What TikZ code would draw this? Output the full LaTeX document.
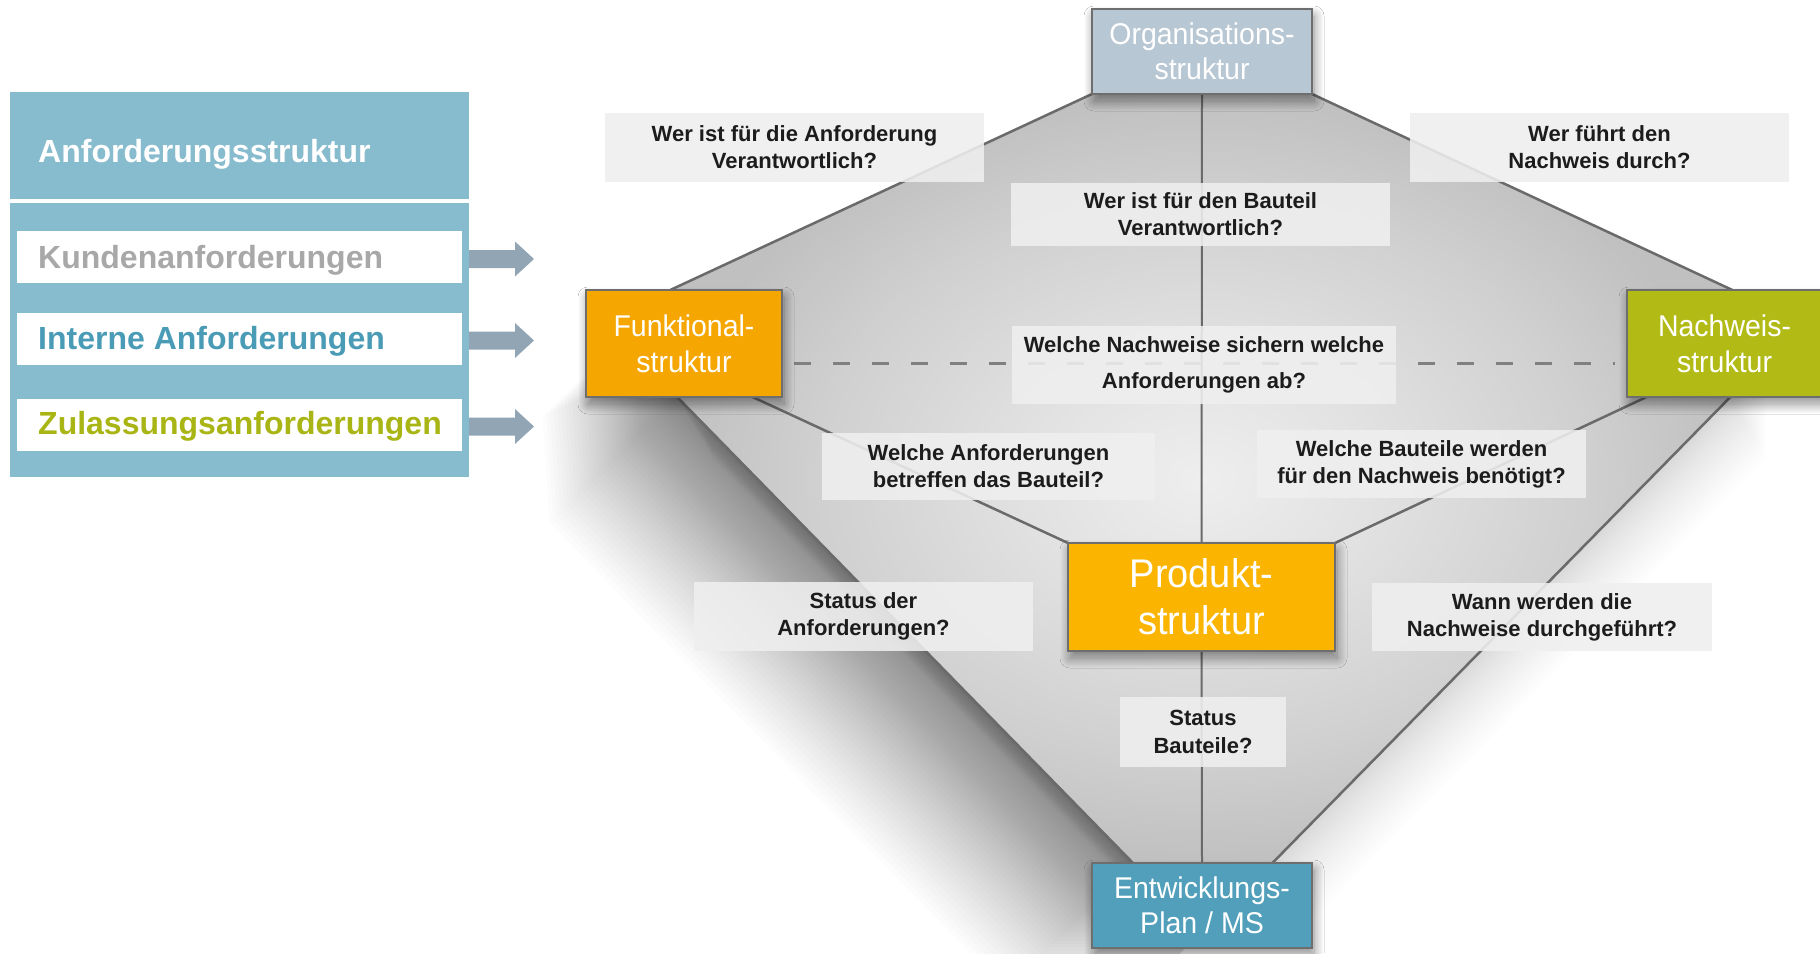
\documentclass[tikz,border=0pt]{standalone}
\usepackage{fontspec}
\setmainfont{Liberation Sans}
\newfontfamily\boxfont[FakeStretch=0.95]{Liberation Sans}
\usetikzlibrary{calc,shadows.blur}

% palette
\definecolor{panelblue}{HTML}{87BBCE}
\definecolor{arrowgray}{HTML}{92A5B5}
\definecolor{kundgray}{HTML}{A8A8A8}
\definecolor{internblue}{HTML}{4A9BB6}
\definecolor{zulgreen}{HTML}{A9B514}
\definecolor{orgfill}{HTML}{B8C7D4}
\definecolor{funkfill}{HTML}{F5A600}
\definecolor{prodfill}{HTML}{FBB500}
\definecolor{nachfill}{HTML}{B2BA16}
\definecolor{entwfill}{HTML}{519FBA}
\definecolor{framegray}{HTML}{6E6E6E}
\definecolor{linegray}{HTML}{6A6A6A}
\definecolor{dashgray}{HTML}{808080}
\definecolor{labelfill}{HTML}{EFEFEF}
\definecolor{textdark}{HTML}{1C1C1C}
\definecolor{shadeA}{HTML}{EEEEEE}
\definecolor{shadeB}{HTML}{E2E2E2}
\definecolor{shadeC}{HTML}{D0D0D0}
\definecolor{shadeD}{HTML}{C0C0C0}

% soft grey fill of the rhombus, light in the middle
\pgfdeclareradialshading{diamondshade}{\pgfpoint{0bp}{0bp}}{%
  color(0bp)=(shadeA); color(8bp)=(shadeB); color(18bp)=(shadeC);
  color(25bp)=(shadeD); color(50bp)=(shadeD)}

\pgfdeclarelayer{backdrop}
\pgfdeclarelayer{wires}
\pgfsetlayers{backdrop,wires,main}

\tikzset{
  structbox/.style={draw=framegray, line width=2.5pt, text=white, align=center,
    inner sep=0pt, outer sep=0pt, minimum width=220pt, minimum height=85pt,
    font=\boxfont\fontsize{30}{35}\selectfont,
    blur shadow={shadow xshift=2pt, shadow yshift=-7pt,
      shadow blur radius=10pt, shadow opacity=45, shadow blur steps=20}},
  question/.style={fill=labelfill, fill opacity=0.88, text opacity=1,
    text=textdark, align=center, inner sep=0pt, outer sep=0pt,
    font=\bfseries\fontsize{22}{27}\selectfont},
  rowbox/.style={fill=white, minimum width=445pt, minimum height=52pt,
    inner sep=0pt, outer sep=0pt},
  rowtext/.style={anchor=base west, inner sep=0pt,
    font=\bfseries\fontsize{32}{38}\selectfont},
  rim/.style={draw=linegray, line width=2.5pt},
  spine/.style={draw=linegray, line width=2pt},
  proofline/.style={draw=dashgray, line width=3pt, dash pattern=on 17pt off 22pt},
  blockarrow/.style={fill=arrowgray},
}

% outline of the rhombus spanned by the five structures
\newcommand\rhombuspath{(org.south west) -- (org.south east) -- (ntop) -- (nbr)
  -- (etr) -- (etl) -- (fbl) -- (ftop) -- cycle}

% soft shadow: copies of the rhombus swept along a direction
% #1 = number of copies, #2 = reach, #3 = unit x, #4 = unit y (canvas), #5 = opacity per copy
\newcommand\sweepshadow[5]{%
  \foreach \i in {1,...,#1}{
    \pgfmathsetmacro{\reach}{#2*(\i/#1)^1.4}
    \pgfmathsetmacro{\dx}{#3*\reach}
    \pgfmathsetmacro{\dy}{#4*\reach}
    \fill[black, opacity=#5, transform canvas={shift={(\dx pt,\dy pt)}}] \rhombuspath;
  }}

\begin{document}
\begin{tikzpicture}[x=1pt, y=-1pt]
\useasboundingbox (0,0) rectangle (1820,953);

% ---------- requirement panel ----------
\node[fill=panelblue, minimum width=459pt, minimum height=385pt,
      inner sep=0pt, outer sep=0pt] (panel) at (239.5,284.5) {};
\fill[white] ($(panel.north west)+(0,107)$) rectangle ($(panel.north east)+(0,111)$);
\node[rowtext, text=white] (title) at ($(panel.north west)+(28,70)$) {Anforderungsstruktur};

\node[rowbox] (kunden) at (239.5,257) {};
\node[rowbox] (interne) at (239.5,338.5) {};
\node[rowbox] (zulass) at (239.5,424.5) {};
\node[rowtext, text=kundgray] (kundenlbl) at ($(kunden.west)+(21,11)$) {Kundenanforderungen};
\node[rowtext, text=internblue] (internelbl) at ($(interne.west)+(21,10.5)$) {Interne Anforderungen};
\node[rowtext, text=zulgreen] (zulasslbl) at ($(zulass.west)+(21,9.5)$) {Zulassungsanforderungen};

\foreach \row in {kunden,interne,zulass}{
  \fill[blockarrow] ($(\row.east -| panel.east)+(0,-7)$) -- ++(46,0) -- ++(0,-8.5)
    -- ++(19,17.5) -- ++(-19,17.5) -- ++(0,-8.5) -- ++(-46,0) -- cycle;
}

% ---------- question labels ----------
\node[question, minimum width=379pt, minimum height=69pt] (q1) at (794.5,147.5)
  {Wer ist für die Anforderung\\Verantwortlich?};
\node[question, minimum width=379pt, minimum height=63pt] (q2) at (1200.5,214.5)
  {Wer ist für den Bauteil\\Verantwortlich?};
\node[question, minimum width=379pt, minimum height=69pt] (q3) at (1599.5,147.5)
  {Wer führt den\\Nachweis durch?};
\node[question, minimum width=384pt, minimum height=78pt,
      font=\bfseries\fontsize{22}{36}\selectfont] (q4) at (1204,365)
  {Welche Nachweise sichern welche\\Anforderungen ab?};
\node[question, minimum width=333pt, minimum height=67pt] (q5) at (988.5,466.5)
  {Welche Anforderungen\\betreffen das Bauteil?};
\node[question, minimum width=329pt, minimum height=68pt] (q6) at (1421.5,464)
  {Welche Bauteile werden\\für den Nachweis benötigt?};
\node[question, minimum width=339pt, minimum height=69pt] (q7) at (863.5,616.5)
  {Status der\\Anforderungen?};
\node[question, minimum width=340pt, minimum height=68pt] (q8) at (1542,617)
  {Wann werden die\\Nachweise durchgeführt?};
\node[question, minimum width=166pt, minimum height=70pt,
      font=\bfseries\fontsize{22}{28}\selectfont] (q9) at (1203,732)
  {Status\\Bauteile?};

% ---------- structures ----------
\node[structbox, fill=orgfill] (org) at (1202,51.5) {Organisations-\\struktur};
\node[structbox, fill=funkfill, minimum width=196pt, minimum height=107pt,
      font=\boxfont\fontsize{30}{36}\selectfont] (funk) at (684,343.5) {Funktional-\\struktur};
\node[structbox, fill=nachfill, minimum width=195pt, minimum height=107pt,
      font=\boxfont\fontsize{30}{36}\selectfont] (nach) at (1724.5,343.5) {Nachweis-\\struktur};
\node[structbox, fill=prodfill, minimum width=267pt, minimum height=108pt,
      font=\boxfont\fontsize{40}{47}\selectfont] (prod) at (1201.5,597) {Produkt-\\struktur};
\node[structbox, fill=entwfill] (entw) at (1202,905.5) {Entwicklungs-\\Plan / MS};

% attachment points on the box edges
\coordinate (ftop) at ($(funk.north west)!0.43!(funk.north east)$);
\coordinate (fbl)  at ($(funk.south west)!0.465!(funk.south east)$);
\coordinate (fbr)  at ($(funk.south west)!0.85!(funk.south east)$);
\coordinate (ntop) at ($(nach.north west)!0.54!(nach.north east)$);
\coordinate (nbl)  at ($(nach.south west)!0.10!(nach.south east)$);
\coordinate (nbr)  at ($(nach.south west)!0.53!(nach.south east)$);
\coordinate (etl)  at ($(entw.north west)!0.186!(entw.north east)$);
\coordinate (etr)  at ($(entw.north west)!0.82!(entw.north east)$);

% ---------- rhombus with its shadows ----------
\begin{pgfonlayer}{backdrop}
  \fill[white] (0,0) rectangle (1820,953);
  % deep shadow below the lower left side
  \sweepshadow{48}{180}{-0.71}{-0.70}{0.0135}
  % lighter shadow beyond the lower right side
  \sweepshadow{20}{70}{0.5}{-0.87}{0.009}
  \shade[shading=diamondshade] \rhombuspath;
\end{pgfonlayer}

% ---------- connectors ----------
\begin{pgfonlayer}{wires}
  \draw[rim] (org.south west) -- (ftop);
  \draw[rim] (org.south east) -- (ntop);
  \draw[rim] (fbl) -- (etl);
  \draw[rim] (nbr) -- (etr);
  \draw[rim] (fbr) -- (prod.north west);
  \draw[rim] (nbl) -- (prod.north east);
  \draw[spine] (org.south) -- (prod.north);
  \draw[spine] (prod.south) -- (entw.north);
  \draw[proofline] ($(funk.east)+(12,19.5)$) -- ($(nach.west)+(-12,19.5)$);
\end{pgfonlayer}
\end{tikzpicture}
\end{document}
